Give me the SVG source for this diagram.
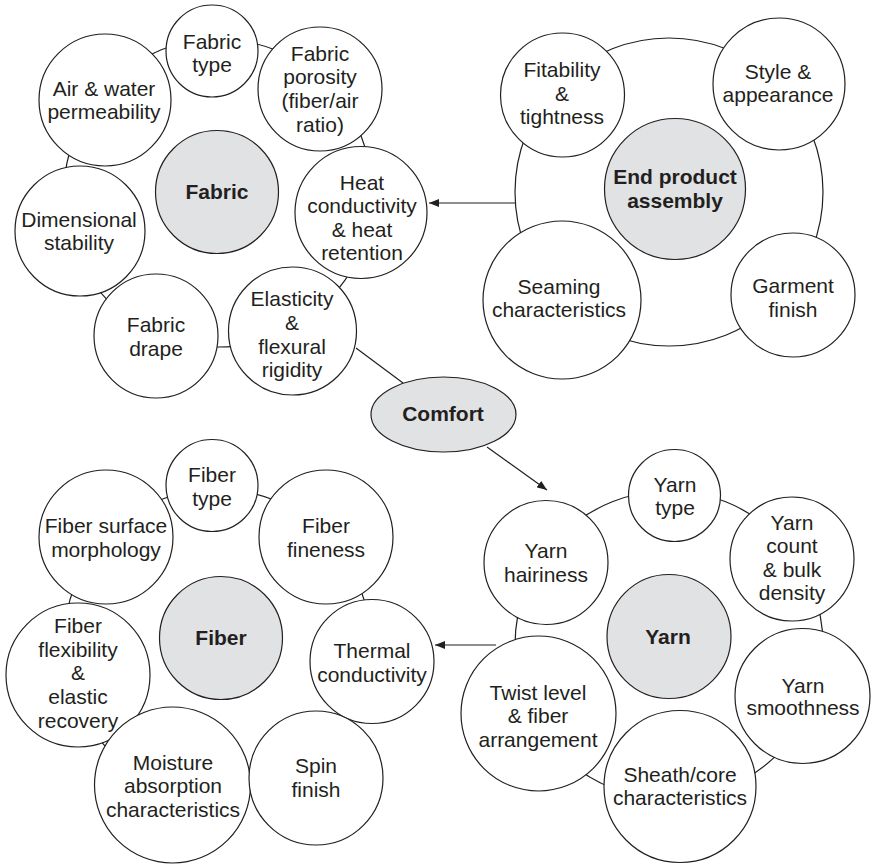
<svg xmlns="http://www.w3.org/2000/svg" width="871" height="864" viewBox="0 0 871 864">
  <style>
    .ring { fill: none; stroke: #231f20; stroke-width: 1.2; }
    .node { fill: #ffffff; stroke: #231f20; stroke-width: 1.2; }
    .hub { fill: #e1e2e4; stroke: #231f20; stroke-width: 1.2; }
    .lbl { font-family: "Liberation Sans", Arial, Helvetica, sans-serif; font-size: 21px; fill: #231f20; text-anchor: middle; }
    .bold { font-weight: bold; }
    .conn { stroke: #231f20; stroke-width: 1.2; fill: none; }
  </style>
  <defs>
    <marker id="arrow" viewBox="0 0 10 8" refX="10" refY="4" markerWidth="10" markerHeight="8" markerUnits="userSpaceOnUse" orient="auto">
      <path d="M0,0 L10,4 L0,8 Z" fill="#231f20"/>
    </marker>
  </defs>

  <rect width="871" height="864" fill="#ffffff"/>

  <!-- background rings that hold each cluster together -->
  <g id="rings">
    <circle class="ring" cx="218" cy="193" r="154"/>
    <circle class="ring" cx="669" cy="192" r="154"/>
    <circle class="ring" cx="217" cy="642" r="153"/>
    <circle class="ring" cx="669" cy="645" r="154"/>
  </g>

  <!-- connectors -->
  <g id="connectors">
    <line class="conn" x1="356" y1="348" x2="403" y2="383"/>
    <line class="conn" x1="487" y1="447" x2="547" y2="490" marker-end="url(#arrow)"/>
    <line class="conn" x1="515" y1="203" x2="429" y2="203" marker-end="url(#arrow)"/>
    <line class="conn" x1="496" y1="645" x2="435" y2="645" marker-end="url(#arrow)"/>
  </g>

  <!-- Fabric cluster -->
  <g id="fabric-type">
    <circle class="node" cx="212" cy="51" r="46"/>
    <text class="lbl" x="212" y="49">Fabric</text>
    <text class="lbl" x="212" y="72">type</text>
  </g>
  <g id="fabric-porosity">
    <circle class="node" cx="320" cy="89" r="62"/>
    <text class="lbl" x="320" y="61">Fabric</text>
    <text class="lbl" x="320" y="84">porosity</text>
    <text class="lbl" x="320" y="108">(fiber/air</text>
    <text class="lbl" x="320" y="132">ratio)</text>
  </g>
  <g id="air-water-permeability">
    <circle class="node" cx="105" cy="100" r="66"/>
    <text class="lbl" x="104" y="96">Air &amp; water</text>
    <text class="lbl" x="104" y="119">permeability</text>
  </g>
  <g id="fabric">
    <circle class="hub" cx="217" cy="192" r="61.5"/>
    <text class="lbl bold" x="217" y="199">Fabric</text>
  </g>
  <g id="dimensional-stability">
    <circle class="node" cx="80" cy="231" r="65"/>
    <text class="lbl" x="79" y="227">Dimensional</text>
    <text class="lbl" x="79" y="250">stability</text>
  </g>
  <g id="heat-conductivity">
    <circle class="node" cx="361" cy="212.5" r="66"/>
    <text class="lbl" x="362" y="190">Heat</text>
    <text class="lbl" x="362" y="213">conductivity</text>
    <text class="lbl" x="362" y="237">&amp; heat</text>
    <text class="lbl" x="362" y="260">retention</text>
  </g>
  <g id="fabric-drape">
    <circle class="node" cx="156" cy="336" r="62"/>
    <text class="lbl" x="156" y="332">Fabric</text>
    <text class="lbl" x="156" y="356">drape</text>
  </g>
  <g id="elasticity">
    <circle class="node" cx="292.5" cy="331" r="64"/>
    <text class="lbl" x="292" y="306">Elasticity</text>
    <text class="lbl" x="292" y="330">&amp;</text>
    <text class="lbl" x="292" y="354">flexural</text>
    <text class="lbl" x="292" y="377">rigidity</text>
  </g>

  <!-- End product cluster -->
  <g id="fitability">
    <circle class="node" cx="562.5" cy="95" r="62"/>
    <text class="lbl" x="562" y="77">Fitability</text>
    <text class="lbl" x="562" y="101">&amp;</text>
    <text class="lbl" x="562" y="124">tightness</text>
  </g>
  <g id="style-appearance">
    <circle class="node" cx="779" cy="84" r="66"/>
    <text class="lbl" x="778" y="79">Style &amp;</text>
    <text class="lbl" x="778" y="102">appearance</text>
  </g>
  <g id="end-product-assembly">
    <circle class="hub" cx="675" cy="189" r="70.5"/>
    <text class="lbl bold" x="675" y="184">End product</text>
    <text class="lbl bold" x="675" y="208">assembly</text>
  </g>
  <g id="seaming">
    <circle class="node" cx="562" cy="300" r="79"/>
    <text class="lbl" x="559" y="294">Seaming</text>
    <text class="lbl" x="559" y="317">characteristics</text>
  </g>
  <g id="garment-finish">
    <circle class="node" cx="793" cy="295" r="62"/>
    <text class="lbl" x="793" y="293">Garment</text>
    <text class="lbl" x="793" y="317">finish</text>
  </g>

  <!-- Comfort -->
  <g id="comfort">
    <ellipse class="hub" cx="443.5" cy="414.5" rx="72.5" ry="37.5"/>
    <text class="lbl bold" x="443" y="421">Comfort</text>
  </g>

  <!-- Fiber cluster -->
  <g id="fiber-type">
    <circle class="node" cx="212" cy="485.5" r="46"/>
    <text class="lbl" x="212" y="482">Fiber</text>
    <text class="lbl" x="212" y="506">type</text>
  </g>
  <g id="fiber-surface">
    <circle class="node" cx="106" cy="537" r="67"/>
    <text class="lbl" x="106" y="533">Fiber surface</text>
    <text class="lbl" x="106" y="557">morphology</text>
  </g>
  <g id="fiber-fineness">
    <circle class="node" cx="326" cy="537" r="67"/>
    <text class="lbl" x="326" y="533">Fiber</text>
    <text class="lbl" x="326" y="557">fineness</text>
  </g>
  <g id="fiber">
    <circle class="hub" cx="221" cy="638" r="61.5"/>
    <text class="lbl bold" x="221" y="645">Fiber</text>
  </g>
  <g id="fiber-flexibility">
    <circle class="node" cx="78" cy="675" r="72"/>
    <text class="lbl" x="78" y="633">Fiber</text>
    <text class="lbl" x="78" y="657">flexibility</text>
    <text class="lbl" x="78" y="680">&amp;</text>
    <text class="lbl" x="78" y="704">elastic</text>
    <text class="lbl" x="78" y="728">recovery</text>
  </g>
  <g id="thermal-conductivity">
    <circle class="node" cx="372" cy="661.5" r="62"/>
    <text class="lbl" x="372" y="658">Thermal</text>
    <text class="lbl" x="372" y="682">conductivity</text>
  </g>
  <g id="moisture-absorption">
    <circle class="node" cx="172.5" cy="785" r="78"/>
    <text class="lbl" x="173" y="770">Moisture</text>
    <text class="lbl" x="173" y="793">absorption</text>
    <text class="lbl" x="173" y="817">characteristics</text>
  </g>
  <g id="spin-finish">
    <circle class="node" cx="316" cy="778" r="67"/>
    <text class="lbl" x="316" y="773">Spin</text>
    <text class="lbl" x="316" y="797">finish</text>
  </g>

  <!-- Yarn cluster -->
  <g id="yarn-type">
    <circle class="node" cx="674.5" cy="495.5" r="46"/>
    <text class="lbl" x="675" y="492">Yarn</text>
    <text class="lbl" x="675" y="515">type</text>
  </g>
  <g id="yarn-hairiness">
    <circle class="node" cx="546" cy="562.5" r="62"/>
    <text class="lbl" x="546" y="558">Yarn</text>
    <text class="lbl" x="546" y="582">hairiness</text>
  </g>
  <g id="yarn-count">
    <circle class="node" cx="792" cy="559" r="62"/>
    <text class="lbl" x="792" y="530">Yarn</text>
    <text class="lbl" x="792" y="553">count</text>
    <text class="lbl" x="792" y="577">&amp; bulk</text>
    <text class="lbl" x="792" y="600">density</text>
  </g>
  <g id="yarn">
    <circle class="hub" cx="669" cy="636.5" r="62"/>
    <text class="lbl bold" x="668" y="644">Yarn</text>
  </g>
  <g id="twist-level">
    <circle class="node" cx="538.5" cy="713.5" r="77.5"/>
    <text class="lbl" x="538" y="700">Twist level</text>
    <text class="lbl" x="538" y="723">&amp; fiber</text>
    <text class="lbl" x="538" y="747">arrangement</text>
  </g>
  <g id="yarn-smoothness">
    <circle class="node" cx="802.5" cy="696" r="67.5"/>
    <text class="lbl" x="803" y="693">Yarn</text>
    <text class="lbl" x="803" y="715">smoothness</text>
  </g>
  <g id="sheath-core">
    <circle class="node" cx="680" cy="786.5" r="76"/>
    <text class="lbl" x="680" y="782">Sheath/core</text>
    <text class="lbl" x="680" y="805">characteristics</text>
  </g>
</svg>
